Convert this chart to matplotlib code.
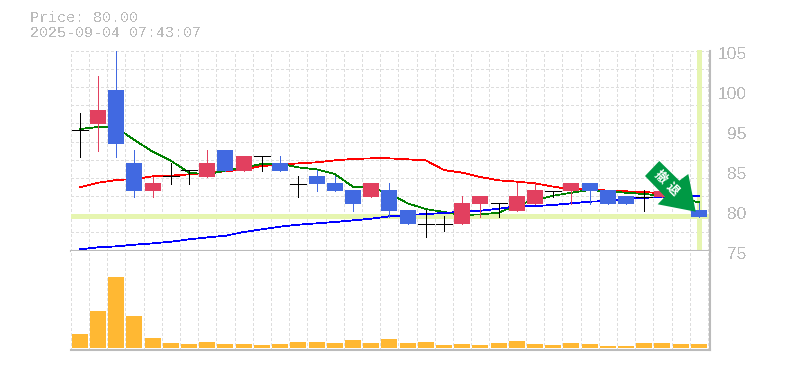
import numpy as np
import matplotlib
matplotlib.use('Agg')
import matplotlib.pyplot as plt
from matplotlib.patches import Polygon
from matplotlib.transforms import blended_transform_factory

plt.rcParams['text.antialiased'] = False

opens = [92.5, 93.4, 98.3, 87.8, 83.7, 85.9, 86.7, 85.8, 89.6, 86.6, 88.8, 87.8,
         84.8, 85.9, 84.9, 83.9, 82.9, 83.9, 81.0, 79.0, 79.0, 79.0, 81.9, 82.0,
         80.9, 81.9, 83.8, 83.7, 84.9, 83.9, 83.0, 82.9, 82.9, 82.9, 81.0]
closes = [92.5, 95.4, 90.5, 83.7, 84.9, 85.9, 86.7, 87.8, 86.6, 88.8, 88.8, 86.6,
          84.8, 84.7, 83.7, 81.9, 84.9, 80.9, 79.0, 79.0, 79.0, 82.0, 83.0, 82.0,
          83.0, 83.9, 83.8, 84.9, 83.7, 81.9, 81.9, 82.9, 83.7, 81.9, 80.0]
highs = [94.9, 100.3, 106.0, 89.6, 85.8, 87.8, 86.7, 89.6, 89.6, 88.8, 88.8, 88.8,
         85.9, 86.8, 85.9, 83.9, 84.9, 84.9, 81.0, 81.0, 80.1, 83.0, 83.0, 82.0,
         84.9, 84.9, 83.8, 84.9, 84.9, 83.9, 83.0, 83.9, 83.7, 82.9, 82.0]
lows = [88.7, 89.5, 88.7, 82.9, 82.9, 84.8, 84.8, 85.8, 86.6, 86.6, 86.6, 86.6,
        82.9, 83.7, 83.7, 80.9, 82.9, 80.0, 79.0, 77.1, 78.0, 79.0, 80.0, 80.0,
        80.9, 81.9, 82.9, 81.9, 81.9, 81.9, 81.9, 80.9, 82.9, 81.9, 80.0]

ma_red = [84.27, 84.94, 85.32, 85.47, 85.85, 85.95, 86.14, 86.38, 86.57, 86.86, 87.34, 87.53,
          87.72, 87.87, 88.15, 88.35, 88.44, 88.44, 88.3, 88.15, 86.76, 86.38, 85.76, 85.28,
          85.09, 84.85, 84.37, 83.99, 83.99, 83.8, 83.7, 83.6, 83.41, 83.2, 83.0]
ma_green = [92.66, 92.95, 92.88, 91.08, 89.4, 88.1, 86.38, 86.14, 86.67, 87.15, 87.63, 87.67,
            87.15, 86.86, 86.19, 84.36, 84.22, 83.41, 81.97, 81.15, 80.72, 80.29, 80.38, 80.62,
            81.73, 82.45, 83.07, 83.5, 83.88, 83.69, 83.5, 83.31, 83.07, 82.69, 82.11]
ma_blue = [75.35, 75.64, 75.78, 76.02, 76.21, 76.45, 76.79, 77.07, 77.31, 77.84, 78.23, 78.61,
           78.9, 79.09, 79.28, 79.52, 79.76, 80.1, 80.29, 80.43, 80.58, 80.77, 80.91, 81.2,
           81.53, 81.58, 81.73, 81.97, 82.21, 82.3, 82.59, 82.78, 82.83, 82.93, 83.02]
volumes = [14, 37, 71, 32, 10, 5, 4, 6, 4, 4, 3, 4, 6, 6, 5, 8, 5, 9,
           5, 6, 3, 4, 3, 5, 7, 4, 3, 5, 4, 2, 2, 5, 5, 4, 4]

date_slots = [4, 9, 14, 19, 24, 29, 34]
date_labels = ['7/23', '7/30', '8/6', '8/14', '8/21', '8/28', '9/4']
price_levels = [103.4, 97.64, 91.89, 86.13, 80.38, 74.62]
price_labels = ['105', '100', '95', '85', '80', '75']
current_price = 80.14

RED = '#e2405f'
BLUE = '#4169e1'
GRAY = '#bbbbbb'
GRID = '#dddddd'
PALE = '#e6f5b0'
W, H = 785, 370

fig = plt.figure(figsize=(W / 100, H / 100), dpi=100)
ax = fig.add_axes([70.7 / W, 1 - 250.6 / H, 639.3 / W, 199.9 / H])
ax2 = fig.add_axes([70.7 / W, 1 - 350 / H, 639.3 / W, 99.4 / H], sharex=ax)
x = np.arange(len(closes))

for a in (ax, ax2):
    a.set_xlim(-0.5, 34.61)
    a.set_xticks(np.arange(36) - 0.5)
    a.tick_params(length=0, labelbottom=False, labelleft=False)
    a.grid(True, axis='x', color=GRID, ls=(0, (3.5, 3.5)), lw=0.6, antialiased=False)
    a.set_axisbelow(True)
    for s in ['left', 'top']:
        a.spines[s].set_visible(False)
    for s in ['right', 'bottom']:
        a.spines[s].set_color(GRAY)
        a.spines[s].set_linewidth(1.5)

ax.set_ylim(75.17, 103.93)
ax.set_yticks(np.linspace(75.17, 103.93, 12))
ax.grid(True, axis='y', color=GRID, ls=(0, (3.5, 3.5)), lw=0.6, antialiased=False)

ax.axhline(current_price, color=PALE, lw=2.2, zorder=1.5, antialiased=False)
ax.plot([34, 34], [75.5, 103.8], color=PALE, lw=2.2, zorder=1.5, clip_on=False, antialiased=False)

ax.plot(x, ma_red, color='#ff0000', lw=0.55, zorder=2.5, antialiased=False)
ax.plot(x, ma_green, color='#008000', lw=0.55, zorder=2.6, antialiased=False)
ax.plot(x, ma_blue, color='#0000ff', lw=0.55, zorder=2.7, antialiased=False)

for i in x:
    if opens[i] == closes[i]:
        c = 'black'
    elif closes[i] > opens[i]:
        c = RED
    else:
        c = BLUE
    ax.vlines(i, lows[i], highs[i], color=c, lw=0.55, zorder=3, antialiased=False)
    if c == 'black':
        ax.hlines(closes[i], i - 0.44, i + 0.44, color=c, lw=0.55, zorder=3, antialiased=False)
    else:
        ax.bar(i, abs(closes[i] - opens[i]), bottom=min(opens[i], closes[i]), width=0.88,
               color=c, zorder=3, antialiased=False)

ax2.bar(x, volumes, width=0.88, bottom=0, color='#ffb833', zorder=3, antialiased=False)
ax2.set_ylim(-2, 97.4)

label_trans = blended_transform_factory(fig.transFigure, ax.transData)
for lev, lab in zip(price_levels, price_labels):
    ax.text(747 / W, lev, lab, transform=label_trans, ha='right', va='center', color=GRAY,
            fontsize=12.5, family='Liberation Sans', clip_on=False)
for s, lab in zip(date_slots, date_labels):
    ax.annotate(lab, (s, 0), xycoords=('data', 'axes fraction'), xytext=(0, -15),
                textcoords='offset pixels', ha='center', va='center', color=GRAY,
                fontsize=8.2, family='Liberation Sans')

fig.text(30 / W, 1 - 18 / H, 'Price: 80.00', color=GRAY, family='Liberation Mono',
         fontsize=10.8, va='center')
fig.text(30 / W, 1 - 33 / H, '2025-09-04 07:43:07', color=GRAY, family='Liberation Mono',
         fontsize=10.8, va='center')

# stop-loss arrow
arrow_px = [(645, 176), (659.3, 161), (679.3, 180.7), (688.3, 174), (695.7, 211.7), (657.7, 204.3), (665, 196.7)]
fig.add_artist(Polygon([(a / W, 1 - b / H) for a, b in arrow_px], closed=True,
                       facecolor='#009944', edgecolor='none', transform=fig.transFigure, zorder=6))
for px, py, ch in [(660, 177.5, '撤'), (672, 189, '退')]:
    fig.text(px / W, 1 - py / H, ch, color='white', fontsize=9, fontweight='bold', rotation=-45,
             ha='center', va='center', family=['Noto Sans CJK JP', 'DejaVu Sans'], zorder=7,
             antialiased=True)

fig.savefig('out.png', dpi=100)
